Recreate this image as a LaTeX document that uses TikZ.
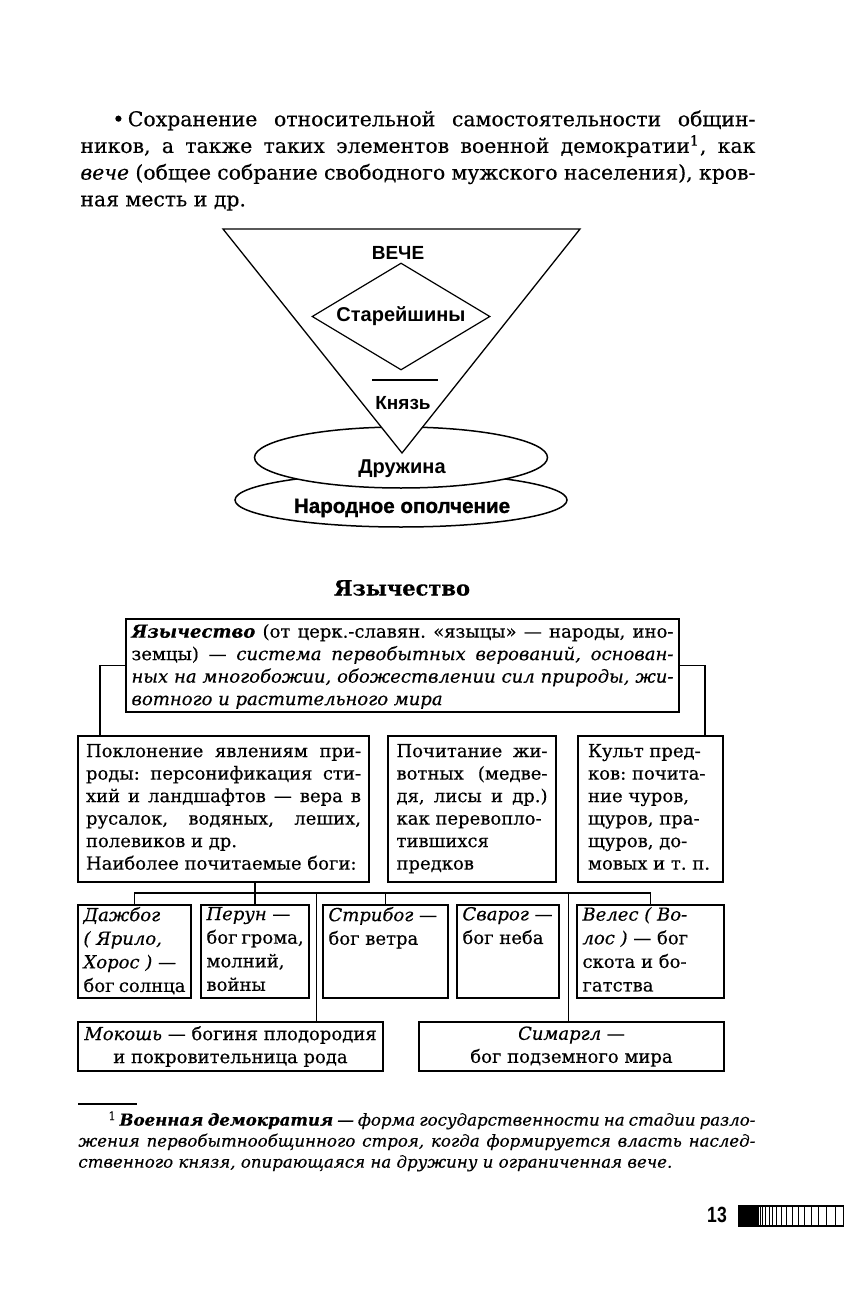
\documentclass[tikz,border=0pt]{standalone}
\usepackage{fontspec}
\setmainfont{DejaVu Serif}[FakeBold=0.4]
\newfontfamily\schemesans{Liberation Sans}
\newfontfamily\heavysans{Liberation Sans}[FakeBold=1.2]
\usetikzlibrary{shapes.geometric,calc}
\frenchspacing

\newcommand{\boxpar}[3]{\parbox[c][#2][t]{#1}{#3}}
\newcommand{\god}[1]{\textit{#1}}

\tikzset{
  sanslabel/.style={font=\schemesans\bfseries\fontsize{10}{12}\selectfont, inner sep=0pt},
  schemebox/.style={draw, line width=1pt, anchor=north west, font=\fontsize{9}{11.25}\selectfont},
  godbox/.style={schemebox, inner xsep=2.75pt, inner ysep=1pt, font=\fontsize{9}{11.8}\selectfont},
  wide/.style={draw, line width=1pt, anchor=north west, inner sep=0pt, minimum width=152.5pt,
    minimum height=24.5pt, align=center, font=\fontsize{9}{11.5}\selectfont},
  link/.style={line width=.8pt},
  thinlink/.style={line width=.5pt},
}

\begin{document}
\begin{tikzpicture}[x=0.5pt,y=-0.5pt]
\useasboundingbox (0,0) rectangle (844,1310);

% opening paragraph
\node[anchor=north west, inner sep=0pt, text width=337.5pt, align=justify,
  font=\fontsize{10.2}{13.35}\selectfont] (intro) at (80,110)
  {\hspace*{16pt}\textbullet\,Сохранение относительной самостоятельности общин-\linebreak
   ников, а также таких элементов военной демократии\textsuperscript{1}, как\linebreak
   \textit{вече} (общее собрание свободного мужского населения), кров-\linebreak
   ная месть и др.};

% veche scheme
\node[ellipse, draw, fill=white, line width=.75pt, inner sep=0pt,
  minimum width=166pt, minimum height=27pt] (militia) at (401,500) {};
\node[ellipse, draw, fill=white, line width=.75pt, inner sep=0pt,
  minimum width=146.5pt, minimum height=30.5pt] (druzhina) at (401,457.5) {};
\draw[fill=white, line width=.65pt] (223,229) -- (580,229) -- (402,453) -- cycle;
\node[diamond, draw, line width=.6pt, inner sep=0pt, aspect=1.66,
  minimum width=89pt, minimum height=53.5pt, sanslabel] (elders) at (401,316.5) {Старейшины};
\node[sanslabel, font=\schemesans\bfseries\fontsize{9.5}{12}\selectfont] (veche) at (398,253) {ВЕЧЕ};
\draw[line width=.6pt] (372,380) -- (438,380);
\node[sanslabel, font=\schemesans\bfseries\fontsize{9.5}{12}\selectfont] (prince) at (403,403) {Князь};
\node[sanslabel] (druzhinalabel) at (402,469) {Дружина};
\node[sanslabel, font=\heavysans\bfseries\fontsize{10.3}{12}\selectfont] (militialabel) at (402,508) {Народное ополчение};

% paganism scheme
\node[font=\bfseries\fontsize{10.5}{12}\selectfont] (title) at (402,588) {Язычество};

\node[schemebox, inner xsep=2.75pt, inner ysep=2.5pt] (def) at (125,618)
  {\boxpar{271pt}{41.5pt}{\textbf{\textit{Язычество}} (от церк.-славян. «языцы» — народы, ино-\linebreak
   земцы) — \textit{система первобытных верований, основан-\linebreak
   ных на многобожии, обожествлении сил природы, жи-\linebreak
   вотного и растительного мира}}};

\node[schemebox, inner xsep=4pt, inner ysep=4pt] (nature) at (77,735)
  {\boxpar{137.5pt}{65pt}{Поклонение явлениям при-\linebreak
   роды: персонификация сти-\linebreak
   хий и ландшафтов — вера в\linebreak
   русалок, водяных, леших,\linebreak
   полевиков и др.\\
   Наиболее почитаемые боги:}};
\node[schemebox, inner xsep=4.25pt, inner ysep=4pt] (animals) at (387,735)
  {\boxpar{75.5pt}{65pt}{Почитание жи-\linebreak
   вотных (медве-\linebreak
   дя, лисы и др.)\linebreak
   как перевопло-\\
   тившихся\\
   предков}};
\node[schemebox, inner xsep=5pt, inner ysep=4pt] (ancestors) at (577,735)
  {\boxpar{62.5pt}{65pt}{\raggedright Культ пред-\\
   ков: почита-\\
   ние чуров,\\
   щуров, пра-\\
   щуров, до-\\
   мовых и т.~п.}};

\node[godbox] (dazh) at (77,904)
  {\boxpar{51pt}{44.5pt}{\raggedright \god{Дажбог}\\ \god{(~Ярило,}\\ \god{Хорос~)}~—\\ бог~солнца}};
\node[godbox] (perun) at (200,904)
  {\boxpar{48.5pt}{44.5pt}{\raggedright \god{Перун}~—\\ бог~грома,\\ молний,\\ войны}};
\node[godbox] (stribog) at (322,904)
  {\boxpar{57pt}{44.5pt}{\raggedright \god{Стрибог}~—\\ бог~ветра}};
\node[godbox] (svarog) at (456,904)
  {\boxpar{45.5pt}{44.5pt}{\raggedright \god{Сварог}~—\\ бог~неба}};
\node[godbox] (veles) at (576,904)
  {\boxpar{68pt}{44.5pt}{\raggedright \god{Велес~(~Во-}\\ \god{лос~)}~—~бог\\ скота~и~бо-\\ гатства}};

\node[wide] (mokosh) at (77,1021) {\god{Мокошь} — богиня плодородия\\и покровительница рода};
\node[wide] (simargl) at (418,1021) {\god{Симаргл} —\\бог подземного мира};

% connectors
\draw[link] (def.west) -| ([xshift=11.5pt]nature.north west);
\draw[link] (def.east) -| ([xshift=-9.5pt]ancestors.north east);
\coordinate (bus) at (0,893);
\draw[link] (nature.south -| perun.north) -- (perun.north);
\draw[link] (dazh.north) -- (dazh.north |- bus) -- (veles.north |- bus) -- (veles.north);
\draw[link] (stribog.north) -- (stribog.north |- bus);
\coordinate (gapL) at ($(perun.north east)!.5!(stribog.north west)$);
\coordinate (gapR) at ($(svarog.north east)!.5!(veles.north west)$);
\draw[thinlink] (gapL |- bus) -- (gapL |- mokosh.north);
\draw[thinlink] (gapR |- bus) -- (gapR |- simargl.north);

% footnote
\draw[line width=.6pt] (78,1104) -- (137,1104);
\node[anchor=north west, inner sep=0pt, text width=338.5pt, align=justify,
  font=\itshape\fontsize{8.3}{10.5}\selectfont] (note) at (78,1111)
  {\hspace*{15pt}\textup{\textsuperscript{1}}\,\textbf{Военная демократия} — форма государственности на стадии разло-\linebreak
   жения первобытнообщинного строя, когда формируется власть наслед-\linebreak
   ственного князя, опирающаяся на дружину и ограниченная вече.};

% page number and strip
\node[font=\schemesans\bfseries\fontsize{11}{12}\selectfont] (pagenum) at (717,1215) {\scalebox{.8}[1]{13}};
\fill (738,1206) rectangle (757,1226);
\draw[line width=.6pt] (738,1206) -- (844,1206);
\draw[line width=.6pt] (738,1226) -- (844,1226);
\foreach \i in {0,...,16}
  \draw[line width=.5pt] ({757+1.5*\i+0.225*\i*(\i-1)},1206) -- ++(0,20);
\draw[line width=.5pt] (843,1206) -- ++(0,20);
\end{tikzpicture}
\end{document}
